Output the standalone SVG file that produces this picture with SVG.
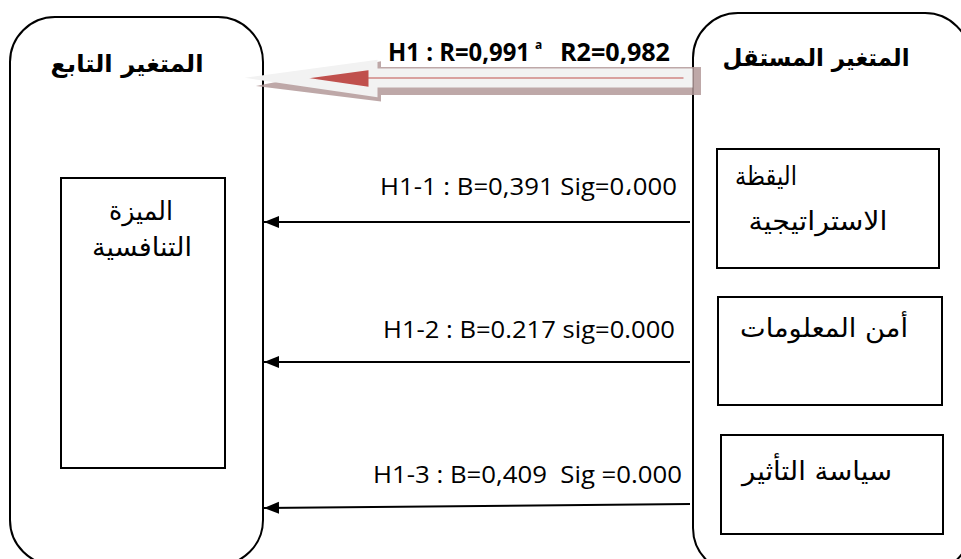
<svg xmlns="http://www.w3.org/2000/svg" width="961" height="559" viewBox="0 0 961 559">
<style>
.frame{fill:#fff;stroke:#000;stroke-width:2}
.box{fill:#fff;stroke:#000;stroke-width:2}
.ar{font-family:"DejaVu Sans",sans-serif;font-size:26px;fill:#000}
.arb{font-family:"DejaVu Sans",sans-serif;font-size:24px;font-weight:bold;fill:#000}
.lab{font-family:"Open Sans","Liberation Sans",sans-serif;font-size:24px;fill:#000}
.hd{font-family:"Open Sans","Liberation Sans",sans-serif;font-size:25px;font-weight:bold;fill:#000}
.sup{font-family:"Open Sans","Liberation Sans",sans-serif;font-size:12px;font-weight:bold;fill:#000}
.conn{stroke:#000;stroke-width:2;fill:none}
</style>
<defs>
<marker id="ah" markerWidth="16" markerHeight="14" refX="15" refY="7" orient="auto" markerUnits="userSpaceOnUse">
<path d="M0,1 L15,7 L0,13 Z" fill="#000"/>
</marker>
</defs>
<rect width="961" height="559" fill="#fff"/>
<g id="dependent">
<rect class="frame" x="10" y="17" width="253" height="548" rx="45" ry="45"/>
<text class="arb" x="127" y="72" text-anchor="middle" direction="rtl" textLength="153" lengthAdjust="spacingAndGlyphs">المتغير التابع</text>
<rect class="box" x="61" y="178" width="164" height="290"/>
<text class="ar" x="141" y="220" text-anchor="middle" direction="rtl" textLength="64" lengthAdjust="spacingAndGlyphs">الميزة</text>
<text class="ar" x="142" y="256" text-anchor="middle" direction="rtl" textLength="100" lengthAdjust="spacingAndGlyphs">التنافسية</text>
</g>
<g id="independent">
<rect class="frame" x="693" y="13" width="277" height="560" rx="45" ry="45"/>
<text class="arb" x="816" y="66" text-anchor="middle" direction="rtl" textLength="187" lengthAdjust="spacingAndGlyphs">المتغير المستقل</text>
</g>
<g id="node-strategic-vigilance">
<rect class="box" x="717" y="149" width="222" height="119"/>
<text class="ar" x="766" y="185" text-anchor="middle" direction="rtl" textLength="62" lengthAdjust="spacingAndGlyphs">اليقظة</text>
<text class="ar" x="818" y="230" text-anchor="middle" direction="rtl" textLength="139" lengthAdjust="spacingAndGlyphs">الاستراتيجية</text>
</g>
<g id="node-information-security">
<rect class="box" x="718" y="297" width="224" height="108"/>
<text class="ar" x="824" y="337" text-anchor="middle" direction="rtl" textLength="168" lengthAdjust="spacingAndGlyphs">أمن المعلومات</text>
</g>
<g id="node-influence-policy">
<rect class="box" x="721" y="435" width="222" height="99"/>
<text class="ar" x="817" y="480" text-anchor="middle" direction="rtl" textLength="150" lengthAdjust="spacingAndGlyphs">سياسة التأثير</text>
</g>
<g id="connectors">
<polygon points="377,71 697,71 697,91 377,91 377,97 281,85 377,66" fill="#b39a9a" stroke="#b39a9a" stroke-width="8" stroke-linejoin="miter" stroke-miterlimit="30" opacity="0.85"/>
<polygon points="373,73 688,73 688,83 373,83 373,92 277,78 373,65" fill="#c0504d" stroke="#f2f2f2" stroke-width="9" stroke-linejoin="miter" stroke-miterlimit="30"/>
<line class="conn" x1="690" y1="222" x2="264" y2="222" marker-end="url(#ah)"/>
<line class="conn" x1="690" y1="362" x2="264" y2="362" marker-end="url(#ah)"/>
<line class="conn" x1="690" y1="504" x2="264" y2="508" marker-end="url(#ah)"/>
</g>
<g id="labels">
<text class="hd" x="388" y="61" textLength="142" lengthAdjust="spacingAndGlyphs">H1 : R=0,991</text>
<text class="sup" x="535" y="49">a</text>
<text class="hd" x="560" y="61" textLength="110" lengthAdjust="spacingAndGlyphs">R2=0,982</text>
<text class="lab" x="380" y="195" textLength="297" lengthAdjust="spacingAndGlyphs">H1-1 : B=0,391 Sig=0،000</text>
<text class="lab" x="383" y="338" textLength="292" lengthAdjust="spacingAndGlyphs">H1-2 : B=0.217 sig=0.000</text>
<text class="lab" x="373" y="483" textLength="309" lengthAdjust="spacingAndGlyphs" xml:space="preserve">H1-3 : B=0,409  Sig =0.000</text>
</g>
</svg>
